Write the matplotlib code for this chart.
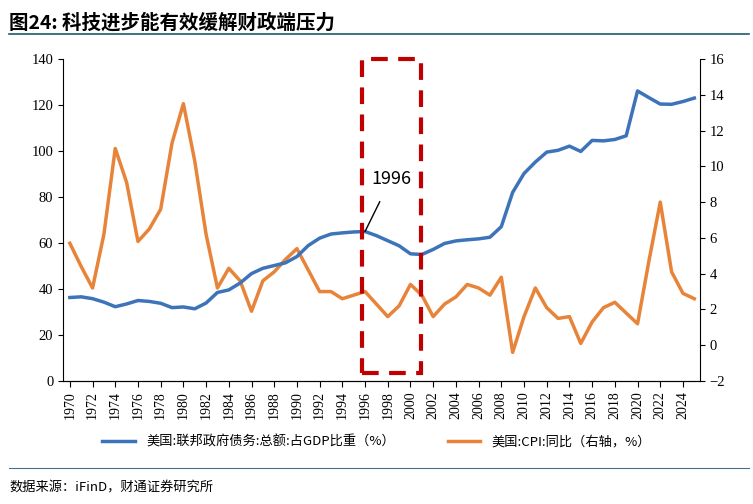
import matplotlib
matplotlib.use("Agg")
import matplotlib.pyplot as plt
from matplotlib.patches import Rectangle
from matplotlib.lines import Line2D

years = list(range(1970, 2026))
debt = [36.3,36.6,35.8,34.3,32.3,33.5,35.0,34.6,33.8,31.9,32.2,31.4,33.9,38.5,39.6,42.6,46.7,49.0,50.2,51.4,
        54.1,58.9,62.1,63.9,64.4,64.8,65.0,63.2,61.0,58.8,55.3,55.0,57.2,59.8,60.9,61.4,61.8,62.5,67.1,82.0,
        90.2,95.2,99.5,100.3,102.1,99.8,104.6,104.4,105.0,106.6,126.1,123.2,120.4,120.3,121.5,123.0]
cpi = [5.7,4.4,3.2,6.2,11.0,9.1,5.8,6.5,7.6,11.3,13.5,10.3,6.2,3.2,4.3,3.6,1.9,3.6,4.1,4.8,
       5.4,4.2,3.0,3.0,2.6,2.8,3.0,2.3,1.6,2.2,3.4,2.8,1.6,2.3,2.7,3.4,3.2,2.8,3.8,-0.4,
       1.6,3.2,2.1,1.5,1.6,0.1,1.3,2.1,2.4,1.8,1.2,4.7,8.0,4.1,2.9,2.6]
xticks = list(range(1970, 2025, 2))
label_debt = "美国:联邦政府债务:总额:占GDP比重（%）"
label_cpi = "美国:CPI:同比（右轴，%）"
title = "图24: 科技进步能有效缓解财政端压力"
source = "数据来源：iFinD，财通证券研究所"

cjk = ['Noto Sans CJK SC', 'DejaVu Sans']
serif = ['Liberation Serif', 'DejaVu Serif']
blue = '#3d74b9'; orange = '#e8843a'

fig = plt.figure(figsize=(7.53, 5.04), dpi=100)
ax = fig.add_axes([0.0837, 0.244, 0.8459, 0.639])
ax2 = ax.twinx()
ax.plot(years, debt, color=blue, lw=2.5, zorder=3)
ax2.plot(years, cpi, color=orange, lw=2.5)
ax.set_zorder(ax2.get_zorder() + 1); ax.patch.set_visible(False)

ax.set_ylim(0, 140); ax.set_yticks(range(0, 141, 20))
ax2.set_ylim(-2, 16); ax2.set_yticks(range(-2, 17, 2))
ax.set_xlim(1969.4, 2025.5)
ax.set_xticks(xticks)
ax.set_xticklabels([str(y) for y in xticks], rotation=90, family=serif, fontsize=10)
for a in (ax, ax2):
    for s in ['top']:
        a.spines[s].set_visible(False)
    for lab in a.get_yticklabels():
        lab.set_family(serif); lab.set_fontsize(10.5)
ax2.spines['left'].set_visible(False)
ax.spines['right'].set_visible(False)
ax.tick_params(axis='x', length=4, direction='out')

ax.add_patch(Rectangle((1995.7, 3.5), 5.2, 136.5, fill=False, ec='#c00000', lw=3,
                       ls=(0, (4, 2.5)), zorder=4, clip_on=False))
ax.annotate("1996", xy=(1996, 65), xytext=(1998.3, 88), ha='center', va='center',
            fontsize=13, family=cjk, arrowprops=dict(arrowstyle='-', color='black', lw=1,
                                                    shrinkA=9, shrinkB=0), zorder=5)

fig.text(0.012, 0.955, title, fontsize=14, fontweight='bold', family=cjk, va='center')
fig.add_artist(Line2D([0.012, 0.995], [0.933, 0.933], color='#1f5c6e', lw=1.2))
h1 = Line2D([], [], color=blue, lw=2.5); h2 = Line2D([], [], color=orange, lw=2.5)
fig.legend([h1, h2], [label_debt, label_cpi], loc='center', bbox_to_anchor=(0.5, 0.123), ncol=2,
           frameon=False, prop={'family': cjk, 'size': 9.5}, columnspacing=4, handlelength=2.5)
fig.add_artist(Line2D([0.012, 0.995], [0.071, 0.071], color='#4a6f8a', lw=0.8))
fig.text(0.012, 0.032, source, fontsize=9.5, family=cjk, va='center')
fig.savefig("out.png", dpi=100)
